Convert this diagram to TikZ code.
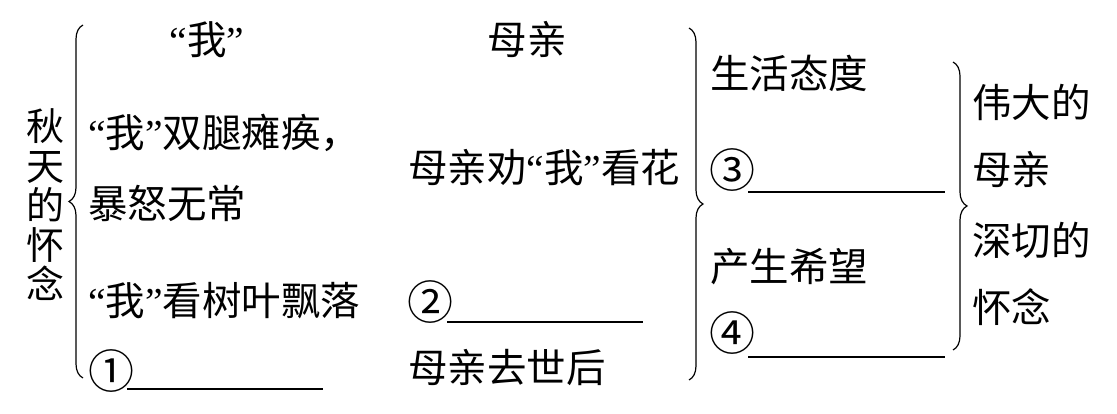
\documentclass[tikz,border=0pt]{standalone}
\usepackage{fontspec}
\setmainfont{Noto Sans CJK SC}
\newfontfamily\quotefont{Liberation Serif}
\newcommand\qopen{{\quotefont “}}
\newcommand\qclose{{\quotefont ”}}
\newcommand\circnum[1]{{\fontsize{46}{46}\selectfont #1}}
\usetikzlibrary{decorations.pathreplacing,positioning}

\begin{document}
\begin{tikzpicture}[x=1pt,y=-1pt,
  txt/.style={anchor=west,inner sep=0pt,font=\fontsize{39.5}{40}\selectfont},
  head/.style={inner sep=0pt,font=\fontsize{39.5}{40}\selectfont},
  vtxt/.style={inner sep=0pt,align=center,font=\fontsize{38}{39.5}\selectfont},
  blank/.style={line width=1.2pt},
  brace/.style={decorate,decoration={brace,amplitude=14pt},line width=1.2pt}
]
\useasboundingbox (0,0) rectangle (1117,414);

% title and the left brace
\node[vtxt] (title) at (46,205) {秋\\天\\的\\怀\\念};
\coordinate (lbtop) at (83,25);
\coordinate (lbbot) at (83,378);
\draw[brace] (lbbot) -- (lbtop);

% first column
\node[head] (me) at (207,40) {\qopen 我\qclose};
\node[txt] (me1) at (88,133) {\qopen 我\qclose 双腿瘫痪，};
\node[txt] (me2) at (88,203) {暴怒无常};
\node[txt] (me3) at (88,301) {\qopen 我\qclose 看树叶飘落};
\node[txt] (n1) at (88,371) {\circnum{①}};
\coordinate (b1s) at (127,389);
\coordinate (b1e) at (323,389);
\draw[blank] (b1s) -- (b1e);

% second column
\node[head] (mom) at (527,40) {母亲};
\node[txt] (mom1) at (408,168) {母亲劝\qopen 我\qclose 看花};
\node[txt] (n2) at (407,302) {\circnum{②}};
\coordinate (b2s) at (447,322);
\coordinate (b2e) at (643,322);
\draw[blank] (b2s) -- (b2e);
\node[txt] (mom2) at (408,368) {母亲去世后};

% middle brace
\coordinate (mbtop) at (689,28);
\coordinate (mbbot) at (689,380);
\draw[brace] (mbtop) -- (mbbot);

% third column
\node[txt] (life) at (710,73) {生活态度};
\node[txt] (n3) at (709,170) {\circnum{③}};
\coordinate (b3s) at (748,192);
\coordinate (b3e) at (945,192);
\draw[blank] (b3s) -- (b3e);
\node[txt] (hope) at (710,267) {产生希望};
\node[txt] (n4) at (709,333) {\circnum{④}};
\coordinate (b4s) at (748,357);
\coordinate (b4e) at (945,357);
\draw[blank] (b4s) -- (b4e);

% right brace and summary
\coordinate (rbtop) at (953,62);
\coordinate (rbbot) at (953,350);
\draw[brace] (rbtop) -- (rbbot);
\node[txt] (great) at (972,102) {伟大的};
\node[txt] (great2) at (972,170) {母亲};
\node[txt] (miss) at (972,240) {深切的};
\node[txt] (miss2) at (972,307) {怀念};
\end{tikzpicture}
\end{document}
